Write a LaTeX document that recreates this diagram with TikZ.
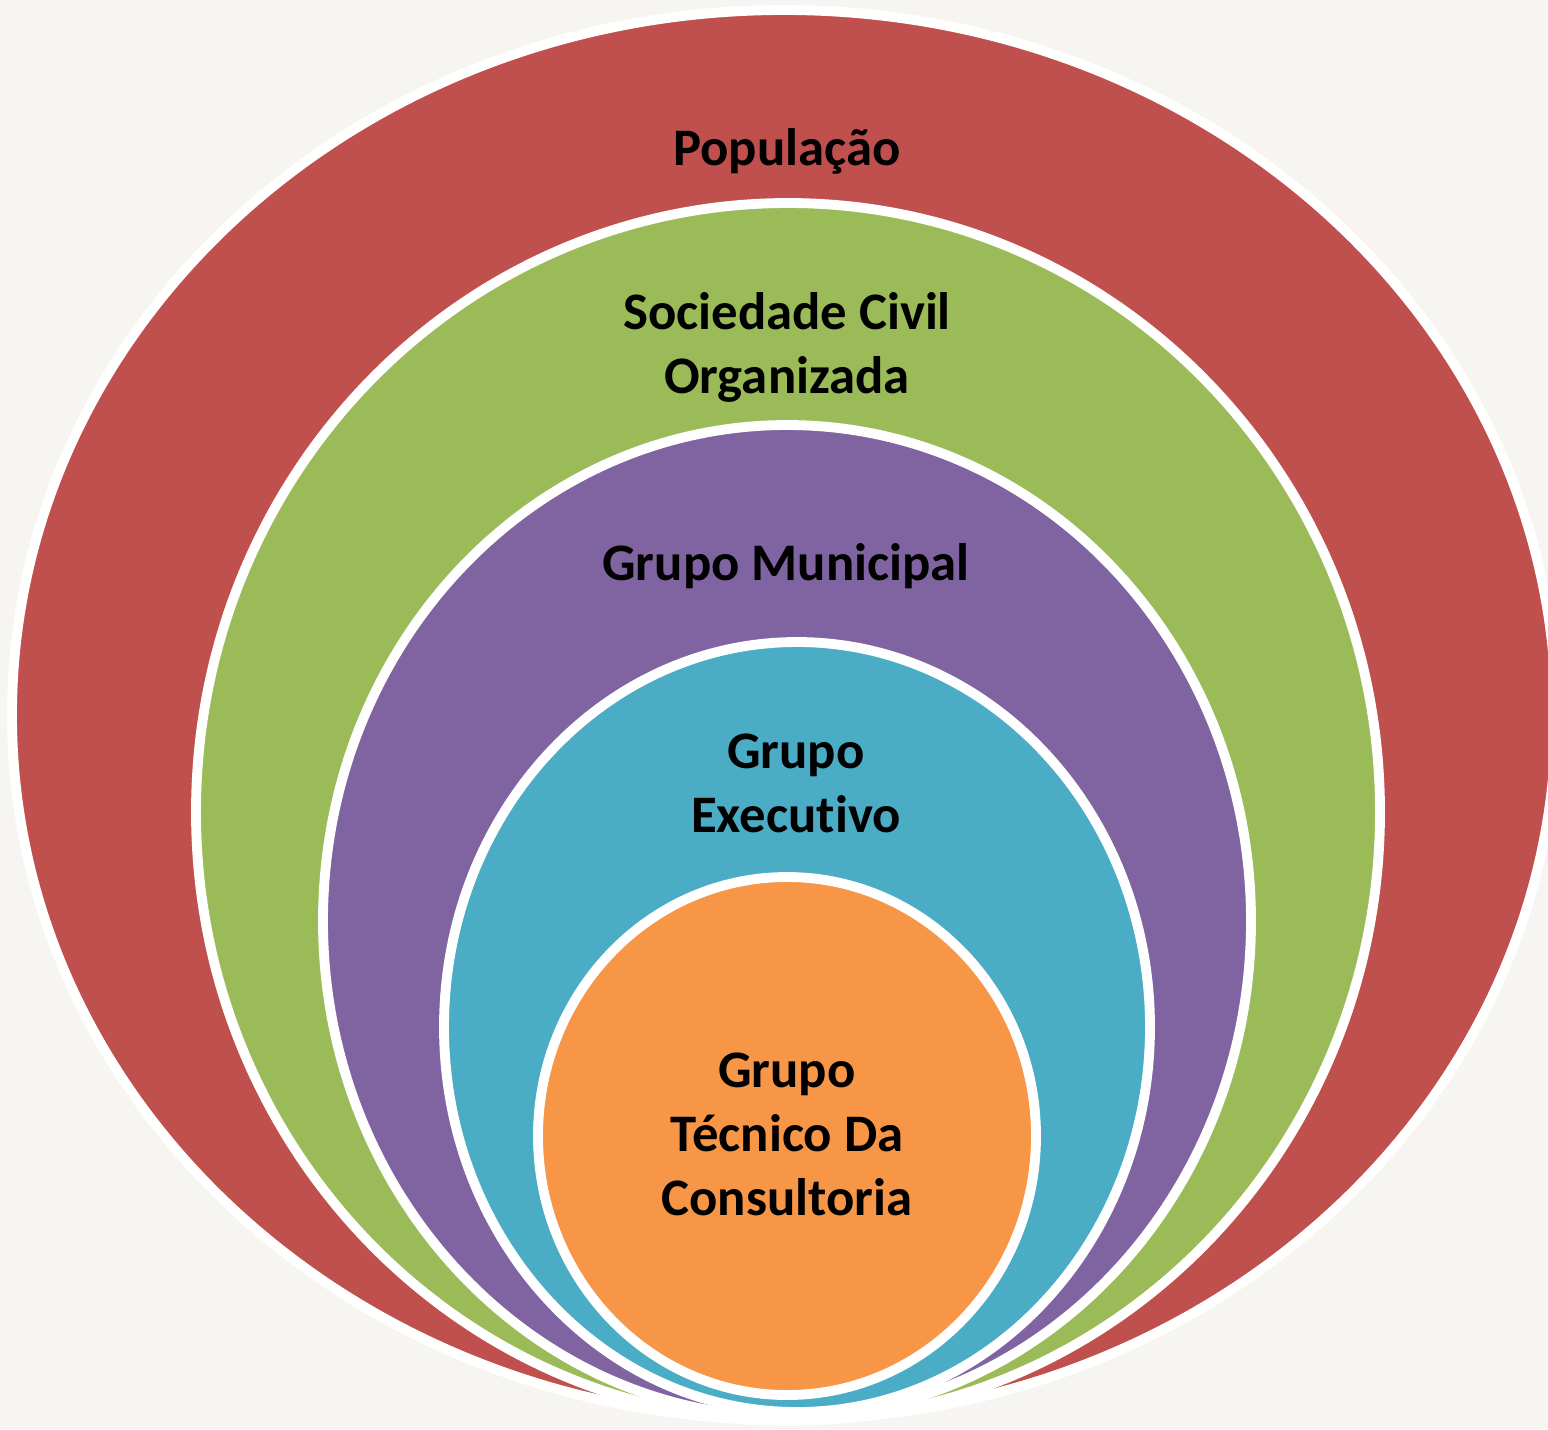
\documentclass[tikz,border=0pt]{standalone}
\usepackage{fontspec}
\setmainfont{Carlito}[Ligatures=NoCommon]
\usepackage{tikz}

\definecolor{bgpaper}{HTML}{F6F5F1}
\definecolor{popred}{HTML}{C0504D}
\definecolor{socgreen}{HTML}{9BBB59}
\definecolor{munpurple}{HTML}{8064A2}
\definecolor{exeblue}{HTML}{4BACC6}
\definecolor{tecorange}{HTML}{F79646}

\tikzset{
    ring/.style={draw=white, line width=2.8pt},
    lbl/.style={font=\fontsize{15}{18.2}\selectfont\bfseries, align=center, anchor=base, inner sep=0pt},
}

\begin{document}
\begin{tikzpicture}[x=0.01cm, y=-0.01cm]
            \useasboundingbox (0,0) rectangle (1548,1429);
            \fill[bgpaper] (0,0) rectangle (1548,1429);
            \clip (0,0) rectangle (1548,1429);

            % rings, outside in
            \filldraw[ring, fill=popred]    (784,715)  ellipse [x radius=772, y radius=705];
            \filldraw[ring, fill=socgreen]  (788,812)  ellipse [x radius=592, y radius=609];
            \filldraw[ring, fill=munpurple] (787,921)  ellipse [x radius=464, y radius=496];
            \filldraw[ring, fill=exeblue]   (797,1027) ellipse [x radius=353, y radius=385];
            \filldraw[ring, fill=tecorange] (787,1136) ellipse [x radius=249, y radius=259];

            % labels (base = last line)
            \node[lbl] (pop) at (787,165) {População};
            \node[lbl] (soc) at (787,393) {Sociedade Civil\\Organizada};
            \node[lbl] (mun) at (786,580) {Grupo Municipal};
            \node[lbl] (exe) at (796,832) {Grupo\\Executivo};
            \node[lbl] (tec) at (787,1215) {Grupo\\Técnico Da\\Consultoria};
\end{tikzpicture}
\end{document}
